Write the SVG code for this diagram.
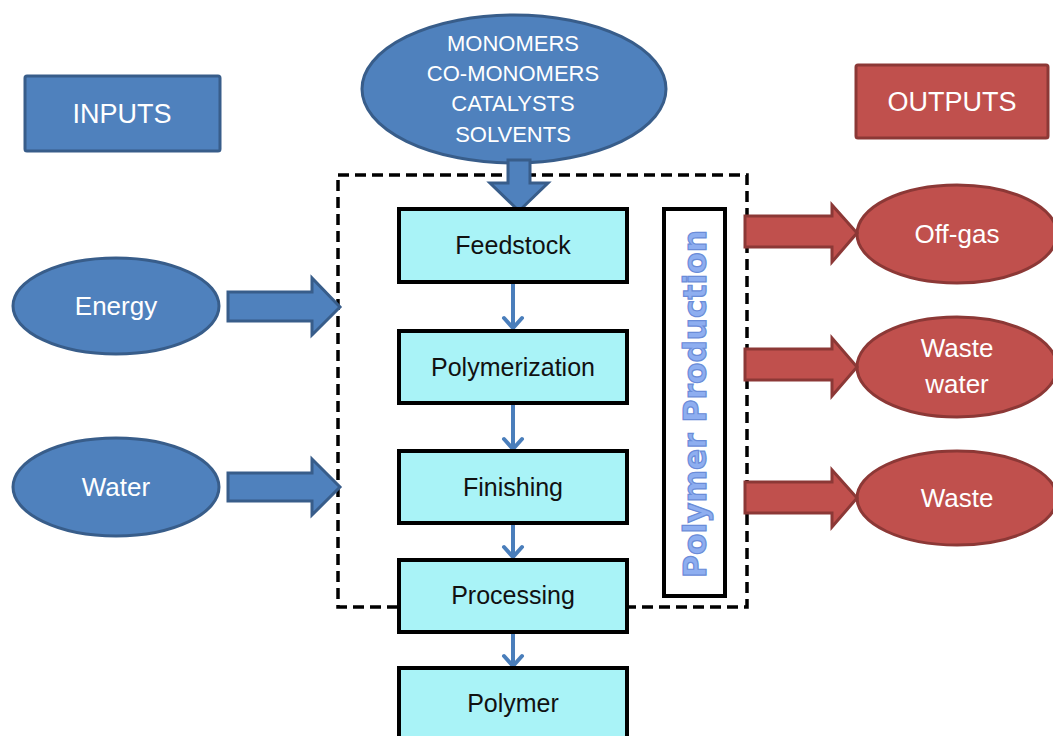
<svg xmlns="http://www.w3.org/2000/svg" width="1053" height="736" viewBox="0 0 1053 736">
  <defs>
    <style>
      .blue { fill: #4f81bd; stroke: #385d8a; stroke-width: 3; }
      .red { fill: #c0504d; stroke: #8c3836; stroke-width: 3; }
      .step { fill: #a9f3f7; stroke: #000; stroke-width: 4; }
      .lbl { font-family: "Liberation Sans", Arial, sans-serif; text-anchor: middle; dominant-baseline: central; }
      .wt { fill: #ffffff; font-size: 26px; }
      .hd { fill: #ffffff; font-size: 27px; }
      .mat { fill: #ffffff; font-size: 22px; }
      .bt { fill: #111111; font-size: 25px; }
      .flow { stroke: #4a7ebb; stroke-width: 4; fill: none; }
      .chev { stroke: #4a7ebb; stroke-width: 4; fill: none; stroke-linecap: round; stroke-linejoin: miter; }
    </style>
  </defs>
  <rect width="1053" height="736" fill="#ffffff"/>

  <!-- process boundary -->
  <rect id="boundary" x="338" y="175" width="409" height="432" fill="none" stroke="#000" stroke-width="3.5" stroke-dasharray="11 6"/>

  <!-- legend headers -->
  <g id="inputs">
    <rect class="blue" x="25" y="76" width="195" height="75" rx="2"/>
    <text class="lbl hd" x="122" y="114">INPUTS</text>
  </g>
  <g id="outputs">
    <rect class="red" x="856" y="65" width="192" height="73" rx="2"/>
    <text class="lbl hd" x="952" y="102">OUTPUTS</text>
  </g>

  <!-- raw materials -->
  <g id="materials">
    <ellipse class="blue" cx="514" cy="89" rx="152" ry="74"/>
    <text class="lbl mat" x="513" y="43">MONOMERS</text>
    <text class="lbl mat" x="513" y="73">CO-MONOMERS</text>
    <text class="lbl mat" x="513" y="103">CATALYSTS</text>
    <text class="lbl mat" x="513" y="134">SOLVENTS</text>
  </g>

  <g id="energy">
    <ellipse class="blue" cx="116" cy="306" rx="103" ry="48"/>
    <text class="lbl wt" x="116" y="306">Energy</text>
  </g>
  <g id="water">
    <ellipse class="blue" cx="116" cy="487" rx="103" ry="49"/>
    <text class="lbl wt" x="116" y="487">Water</text>
  </g>

  <g id="offgas">
    <ellipse class="red" cx="957" cy="234" rx="100" ry="49"/>
    <text class="lbl wt" x="957" y="234">Off-gas</text>
  </g>
  <g id="wastewater">
    <ellipse class="red" cx="957" cy="367" rx="100" ry="50"/>
    <text class="lbl wt" x="957" y="348">Waste</text>
    <text class="lbl wt" x="957" y="384">water</text>
  </g>
  <g id="waste">
    <ellipse class="red" cx="957" cy="498" rx="100" ry="47"/>
    <text class="lbl wt" x="957" y="498">Waste</text>
  </g>

  <!-- connectors -->
  <g id="connectors">
    <!-- block arrows -->
    <path class="blue" d="M508,160 L530,160 L530,183 L548,183 L519,211 L490,183 L508,183 Z"/>
    <path class="blue" d="M228,292 L312,292 L312,278 L340,307 L312,335 L312,321 L228,321 Z"/>
    <path class="blue" d="M228,473 L312,473 L312,459 L340,487 L312,515 L312,501 L228,501 Z"/>
    <path class="red" d="M745,216 L832,216 L832,205 L857,233 L832,262 L832,247 L745,247 Z"/>
    <path class="red" d="M745,349 L832,349 L832,338 L857,367 L832,396 L832,380 L745,380 Z"/>
    <path class="red" d="M745,482 L832,482 L832,470 L857,498 L832,527 L832,513 L745,513 Z"/>

    <!-- step flow arrows -->
    <line class="flow" x1="513" y1="283" x2="513" y2="328"/>
    <polyline class="chev" points="504,318 513,328 522,318"/>
    <line class="flow" x1="513" y1="403" x2="513" y2="449"/>
    <polyline class="chev" points="504,439 513,449 522,439"/>
    <line class="flow" x1="513" y1="523" x2="513" y2="557"/>
    <polyline class="chev" points="504,547 513,557 522,547"/>
    <line class="flow" x1="513" y1="633" x2="513" y2="666"/>
    <polyline class="chev" points="504,656 513,666 522,656"/>
  </g>

  <!-- process steps -->
  <g id="feedstock">
    <rect class="step" x="399" y="209" width="228" height="73"/>
    <text class="lbl bt" x="513" y="245">Feedstock</text>
  </g>
  <g id="polymerization">
    <rect class="step" x="399" y="331" width="228" height="72"/>
    <text class="lbl bt" x="513" y="367">Polymerization</text>
  </g>
  <g id="finishing">
    <rect class="step" x="399" y="451" width="228" height="72"/>
    <text class="lbl bt" x="513" y="487">Finishing</text>
  </g>
  <g id="processing">
    <rect class="step" x="399" y="560" width="228" height="72"/>
    <text class="lbl bt" x="513" y="595">Processing</text>
  </g>
  <g id="polymer">
    <rect class="step" x="399" y="668" width="228" height="80"/>
    <text class="lbl bt" x="513" y="703">Polymer</text>
  </g>

  <!-- side title -->
  <g id="title">
    <rect x="664" y="209" width="61" height="387" fill="#ffffff" stroke="#000" stroke-width="4"/>
    <text x="695" y="404" transform="rotate(-90 695 404)" text-anchor="middle" dominant-baseline="central"
      font-family="'DejaVu Sans', 'Liberation Sans', sans-serif" font-weight="bold" font-size="32"
      textLength="348" lengthAdjust="spacingAndGlyphs"
      fill="#8eaef0" stroke="#6a8cd8" stroke-width="1.2">Polymer Production</text>
  </g>
</svg>
